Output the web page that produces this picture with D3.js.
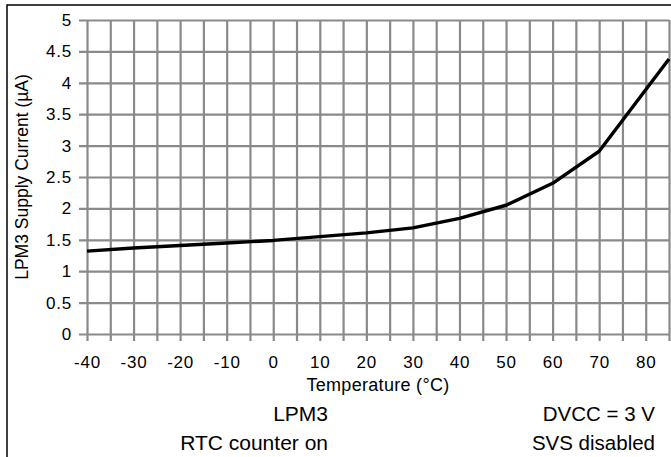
<!DOCTYPE html>
<meta charset="utf-8">
<style>
  body { margin: 0; background: #fff; }
  text { font-family: "Liberation Sans", Arial, sans-serif; fill: #000; }
</style>
<body>
<svg width="671" height="457"></svg>
<script src="https://cdnjs.cloudflare.com/ajax/libs/d3/7.8.5/d3.min.js"></script>
<script>

// LPM3 supply current vs temperature
var temperature = [-40, -30, -20, -10, 0, 10, 20, 30, 40, 50, 60, 70, 85];
var current = [1.32, 1.37, 1.41, 1.45, 1.49, 1.55, 1.61, 1.69, 1.84, 2.05, 2.40, 2.91, 4.38];

var xTicks = [-40, -30, -20, -10, 0, 10, 20, 30, 40, 50, 60, 70, 80];
var yTicks = [0, 0.5, 1, 1.5, 2, 2.5, 3, 3.5, 4, 4.5, 5];

var svg = d3.select("svg");
var margin = {top: 20, right: 2, bottom: 123, left: 87};
var width = +svg.attr("width") - margin.left - margin.right;
var height = +svg.attr("height") - margin.top - margin.bottom;
var g = svg.append("g").attr("transform", "translate(" + margin.left + "," + margin.top + ")");

var xScale = d3.scaleLinear().domain([-40, 85]).range([0, width]);
var yScale = d3.scaleLinear().domain([0, 5]).range([height, 0]);

// plain hyphen and no trailing zeros, like the original
var fmt = function(d) { return String(d); };

// frame round the figure
svg.append("path")
  .attr("d", "M7,457V5H671")
  .attr("fill", "none")
  .attr("stroke", "#000")
  .attr("stroke-width", 1.5);

// grid: vertical every 5 degrees, horizontal every 0.5
var gridX = d3.range(-40, 86, 5);

g.append("g")
  .call(d3.axisBottom(xScale).tickValues(gridX).tickSize(0).tickFormat(""))
  .call(function(a) {
    a.select(".domain").remove();
    a.selectAll(".tick line").attr("stroke", "#8a8a8a").attr("stroke-width", 2.2).attr("y1", 0).attr("y2", height + 7);
  });

g.append("g")
  .call(d3.axisLeft(yScale).tickValues(yTicks).tickSize(0).tickFormat(""))
  .call(function(a) {
    a.select(".domain").remove();
    a.selectAll(".tick line").attr("stroke", "#8a8a8a").attr("stroke-width", 2.2).attr("x1", -8).attr("x2", width);
  });

// tick labels
g.append("g")
  .attr("transform", "translate(0," + height + ")")
  .call(d3.axisBottom(xScale).tickValues(xTicks).tickSize(0).tickPadding(22).tickFormat(fmt))
  .call(function(a) {
    a.select(".domain").remove();
    a.selectAll("text").attr("font-family", null).style("font-size", "17px").style("letter-spacing", "0.8px").attr("fill", "#000");
  });

g.append("g")
  .call(d3.axisLeft(yScale).tickValues(yTicks).tickSize(0).tickPadding(15).tickFormat(fmt))
  .call(function(a) {
    a.select(".domain").remove();
    a.selectAll("text").attr("font-family", null).style("font-size", "17px").style("letter-spacing", "0.8px").attr("fill", "#000");
  });

// data line
var line = d3.line()
  .x(function(d, i) { return xScale(temperature[i]); })
  .y(function(d) { return yScale(d); });

g.append("path")
  .attr("d", line(current))
  .attr("fill", "none")
  .attr("stroke", "#000")
  .attr("stroke-width", 3.4)
  .attr("stroke-linejoin", "round");

// titles
svg.append("text")
  .attr("transform", "translate(28,177) rotate(-90)")
  .attr("text-anchor", "middle")
  .style("font-size", "17.5px")
  .text("LPM3 Supply Current (µA)");

svg.append("text")
  .attr("x", 378).attr("y", 391)
  .attr("text-anchor", "middle")
  .style("font-size", "18px")
  .style("letter-spacing", "0.3px")
  .text("Temperature (°C)");

svg.append("text")
  .attr("x", 328).attr("y", 421)
  .attr("text-anchor", "end")
  .style("font-size", "21px")
  .text("LPM3");

svg.append("text")
  .attr("x", 328).attr("y", 450)
  .attr("text-anchor", "end")
  .style("font-size", "21px")
  .text("RTC counter on");

svg.append("text")
  .attr("x", 655).attr("y", 421)
  .attr("text-anchor", "end")
  .style("font-size", "20.5px")
  .text("DVCC = 3 V");

svg.append("text")
  .attr("x", 655).attr("y", 450)
  .attr("text-anchor", "end")
  .style("font-size", "20.5px")
  .text("SVS disabled");

</script>
</body>
